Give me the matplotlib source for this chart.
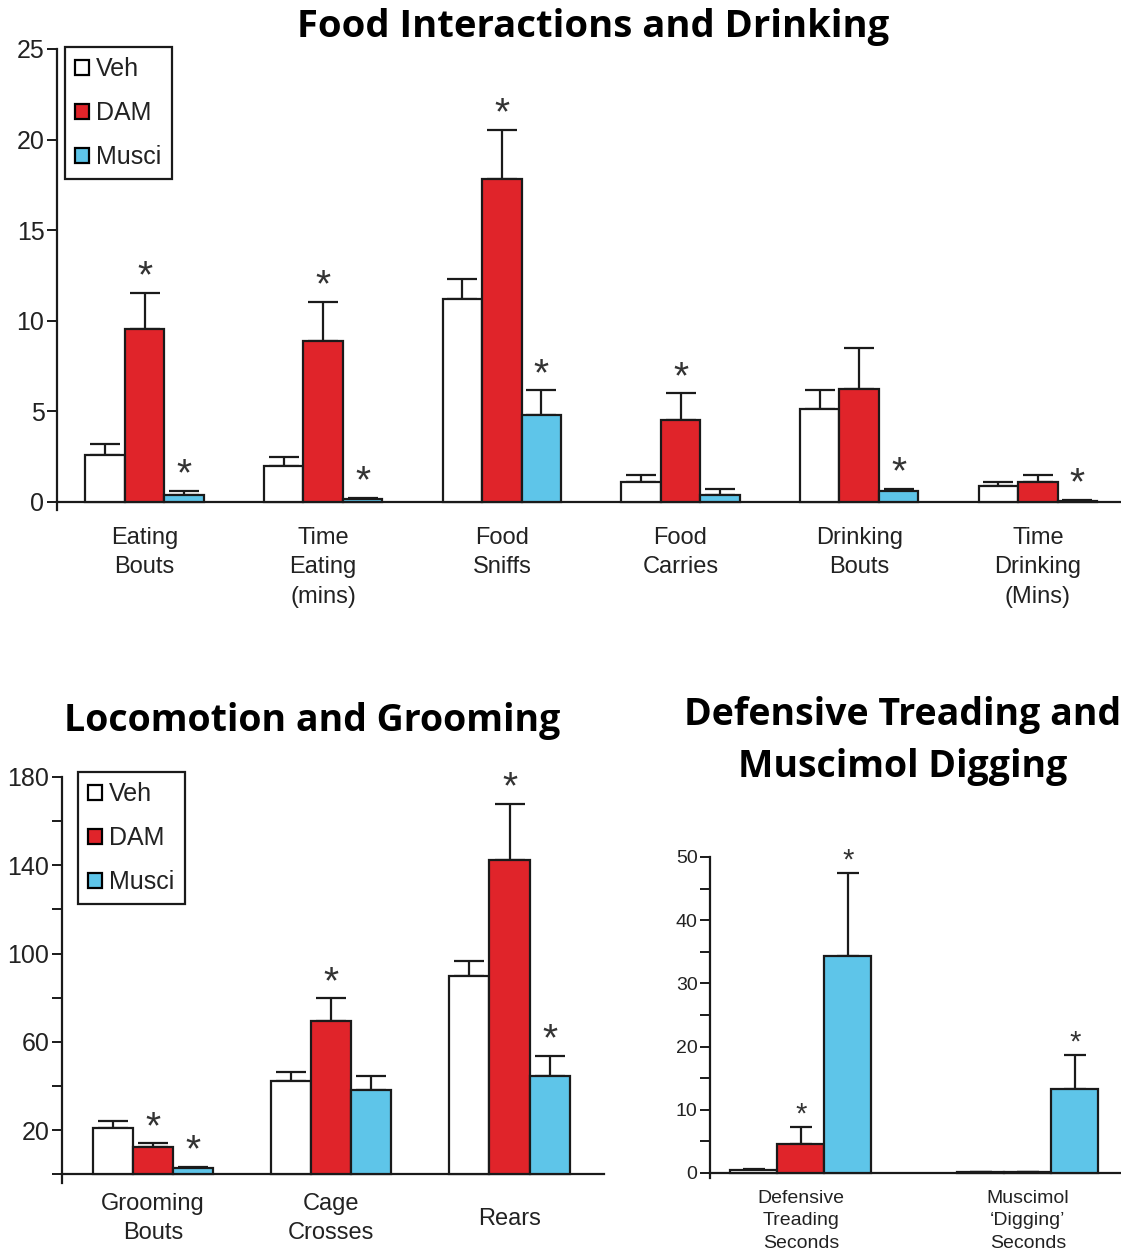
import numpy as np
import matplotlib.pyplot as plt
from matplotlib.patches import Patch

plt.rcParams['font.family'] = ['Liberation Sans', 'DejaVu Sans']

groups = ['Veh', 'DAM', 'Musci']
colors = ['white', '#e0242a', '#5ec5e9']

# food interactions and drinking
food_labels = ['Eating\nBouts', 'Time\nEating\n(mins)', 'Food\nSniffs',
               'Food\nCarries', 'Drinking\nBouts', 'Time\nDrinking\n(Mins)']
food_veh = [2.6, 1.95, 11.2, 1.1, 5.15, 0.85]
food_veh_err = [0.6, 0.5, 1.1, 0.4, 1.0, 0.25]
food_dam = [9.55, 8.85, 17.8, 4.5, 6.25, 1.1]
food_dam_err = [2.0, 2.2, 2.75, 1.5, 2.25, 0.4]
food_mus = [0.38, 0.15, 4.77, 0.35, 0.6, 0.03]
food_mus_err = [0.22, 0.08, 1.38, 0.37, 0.13, 0.07]
food_sig_dam = [1, 1, 1, 1, 0, 0]
food_sig_mus = [1, 1, 1, 0, 1, 1]

# locomotion and grooming
loco_labels = ['Grooming\nBouts', 'Cage\nCrosses', 'Rears']
loco_veh = [21.1, 42.3, 89.9]
loco_veh_err = [3.1, 3.9, 6.9]
loco_dam = [12.1, 69.5, 142.5]
loco_dam_err = [1.9, 10.3, 25.4]
loco_mus = [3.0, 38.2, 44.3]
loco_mus_err = [0.3, 6.1, 9.3]
loco_sig_dam = [1, 1, 1]
loco_sig_mus = [1, 0, 1]

# defensive treading / digging
def_labels = ['Defensive\nTreading\nSeconds', 'Muscimol\n\u2018Digging\u2019\nSeconds']
def_veh = [0.4, 0.1]
def_veh_err = [0.3, 0.1]
def_dam = [4.6, 0.1]
def_dam_err = [2.6, 0.1]
def_mus = [34.4, 13.3]
def_mus_err = [13.1, 5.3]
def_sig_dam = [1, 0]
def_sig_mus = [1, 1]

TXT = '#222222'


def draw_bars(ax, vals, errs, sigs, width, capsize, star_size, star_off):
    x = np.arange(len(vals[0]))
    for k in range(3):
        xs = x + (k - 1) * width
        ax.bar(xs, vals[k], width, color=colors[k], edgecolor='#1a1a1a',
               linewidth=1.6, zorder=3)
        ax.errorbar(xs, vals[k], yerr=[np.zeros(len(xs)), errs[k]], fmt='none',
                    ecolor='#1a1a1a', elinewidth=1.6, capsize=capsize,
                    capthick=1.6, zorder=2)
        if sigs[k] is None:
            continue
        for xi, v, e, s in zip(xs, vals[k], errs[k], sigs[k]):
            if s:
                ax.annotate('*', xy=(xi, v + e), xytext=(0, star_off),
                            textcoords='offset points', ha='center', va='center',
                            fontsize=star_size, color='#333333')


def style_axis(ax, ymin, ymax, yticks, ticklabels, minor, fs):
    ax.set_ylim(ymin, ymax)
    for s in ['top', 'right']:
        ax.spines[s].set_visible(False)
    ax.spines['bottom'].set_position(('data', 0))
    ax.spines['left'].set_linewidth(1.6)
    ax.spines['bottom'].set_linewidth(1.6)
    ax.spines['left'].set_color('#1a1a1a')
    ax.spines['bottom'].set_color('#1a1a1a')
    ax.set_yticks(yticks)
    ax.set_yticklabels(ticklabels, fontsize=fs, color=TXT)
    if minor is not None:
        ax.set_yticks(minor, minor=True)
    ax.tick_params(axis='y', which='both', direction='out', length=7, width=1.4,
                   color='#1a1a1a', pad=2)
    ax.tick_params(axis='x', length=0)
    ax.set_xticks([])


def add_legend(ax, x, y):
    handles = [Patch(facecolor=c, edgecolor='black', linewidth=1.6) for c in colors]
    leg = ax.legend(handles, groups, loc='upper left', bbox_to_anchor=(x, y),
                    bbox_transform=fig.transFigure, fancybox=False,
                    fontsize=18, handlelength=0.55, handleheight=0.55,
                    handletextpad=0.3, labelspacing=0.8, borderpad=0.4,
                    borderaxespad=0, framealpha=1)
    leg.get_frame().set_edgecolor('#1a1a1a')
    leg.get_frame().set_linewidth(1.6)
    for t in leg.get_texts():
        t.set_color(TXT)


def add_labels(ax, labels, fs, off, va, ls):
    for i, lab in enumerate(labels):
        ax.annotate(lab, xy=(i, 0), xytext=(0, off), textcoords='offset points',
                    ha='center', va=va, fontsize=fs, color=TXT, linespacing=ls,
                    annotation_clip=False)


fig = plt.figure(figsize=(11.21, 12.56), dpi=100)

# top panel
ax1 = fig.add_axes([0.0508, 0.594, 0.95, 0.367])
draw_bars(ax1, [food_veh, food_dam, food_mus],
          [food_veh_err, food_dam_err, food_mus_err],
          [None, food_sig_dam, food_sig_mus], 0.221, 11, 28, 11)
style_axis(ax1, -0.45, 25, [0, 5, 10, 15, 20, 25],
           ['0', '5', '10', '15', '20', '25'], None, 18)
ax1.set_xlim(-0.49, 5.47)
add_labels(ax1, food_labels, 17, -18, 'top', 1.45)
add_legend(ax1, 65 / 1121, 1 - 47 / 1256)
fig.text(593 / 1121, 1 - 27 / 1256, 'Food Interactions and Drinking',
         ha='center', va='center', fontsize=27.5, fontweight='bold',
         family='Open Sans', color='black')

# bottom left panel
ax2 = fig.add_axes([0.0553, 0.0581, 0.4835, 0.3233])
draw_bars(ax2, [loco_veh, loco_dam, loco_mus],
          [loco_veh_err, loco_dam_err, loco_mus_err],
          [None, loco_sig_dam, loco_sig_mus], 0.225, 11, 28, 11)
style_axis(ax2, -4, 180, [20, 60, 100, 140, 180],
           ['20', '60', '100', '140', '180'], [0, 40, 80, 120, 160], 18)
ax2.set_xlim(-0.51, 2.53)
add_labels(ax2, loco_labels, 17, -32, 'center', 1.4)
add_legend(ax2, 78 / 1121, 1 - 772 / 1256)
fig.text(312 / 1121, 1 - 721 / 1256, 'Locomotion and Grooming',
         ha='center', va='center', fontsize=27, fontweight='bold',
         family='Open Sans', color='black')

# bottom right panel
ax3 = fig.add_axes([0.6334, 0.0621, 0.3666, 0.2556])
draw_bars(ax3, [def_veh, def_dam, def_mus],
          [def_veh_err, def_dam_err, def_mus_err],
          [None, def_sig_dam, def_sig_mus], 0.207, 8, 21, 9)
style_axis(ax3, -0.8, 50, [0, 10, 20, 30, 40, 50],
           ['0', '10', '20', '30', '40', '50'], [5, 15, 25, 35, 45], 14)
ax3.set_xlim(-0.40, 1.41)
add_labels(ax3, def_labels, 14, -12, 'top', 1.45)
fig.text(903 / 1121, 1 - 741 / 1256, 'Defensive Treading and\nMuscimol Digging',
         ha='center', va='center', fontsize=27, fontweight='bold',
         family='Open Sans', color='black', linespacing=1.45)

fig.savefig('out.png', dpi=100)
